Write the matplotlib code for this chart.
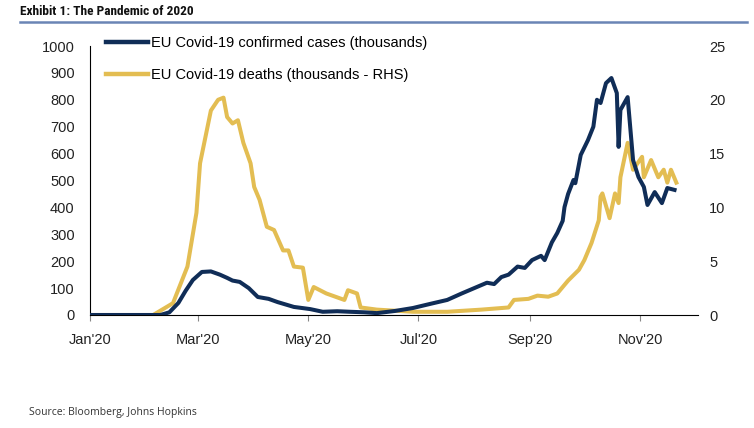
import pandas as pd
import matplotlib.dates as mdates
from matplotlib import pyplot as plt
from matplotlib import font_manager
from matplotlib.lines import Line2D

plt.rcParams["font.family"] = ["Liberation Sans", "DejaVu Sans"]

# EU Covid-19 confirmed cases (thousands)
case_dates = ["2020-01-01", "2020-02-09", "2020-02-14", "2020-02-19", "2020-02-23", "2020-02-27",
              "2020-03-03", "2020-03-08", "2020-03-13", "2020-03-17", "2020-03-20", "2020-03-24",
              "2020-03-29", "2020-04-03", "2020-04-09", "2020-04-14", "2020-04-18", "2020-04-23",
              "2020-05-02", "2020-05-09", "2020-05-17", "2020-05-24", "2020-06-01", "2020-06-08",
              "2020-06-18", "2020-06-28", "2020-07-08", "2020-07-17", "2020-07-25", "2020-08-01",
              "2020-08-08", "2020-08-12", "2020-08-16", "2020-08-20", "2020-08-25", "2020-08-29",
              "2020-09-02", "2020-09-07", "2020-09-09", "2020-09-13", "2020-09-16", "2020-09-19",
              "2020-09-20", "2020-09-22", "2020-09-25", "2020-09-26", "2020-09-29", "2020-10-03",
              "2020-10-06", "2020-10-08", "2020-10-10", "2020-10-13", "2020-10-16", "2020-10-19",
              "2020-10-20", "2020-10-21", "2020-10-25", "2020-10-28", "2020-10-31", "2020-11-03",
              "2020-11-05", "2020-11-09", "2020-11-13", "2020-11-16", "2020-11-20"]
cases = [0, 0, 10, 45, 90, 130,
         160, 162, 150, 138, 128, 123,
         100, 67, 60, 48, 40, 30,
         22, 12, 14, 12, 10, 7,
         15, 26, 42, 56, 80, 100,
         120, 115, 141, 150, 180, 175,
         204, 220, 204, 270, 305, 350,
         401, 450, 502, 490, 595, 650,
         700, 800, 788, 862, 881, 825,
         625, 762, 810, 576, 513, 476,
         409, 457, 416, 472, 465]

# EU Covid-19 deaths (thousands, right axis)
death_dates = ["2020-01-01", "2020-02-05", "2020-02-16", "2020-02-24", "2020-02-29", "2020-03-02",
               "2020-03-08", "2020-03-12", "2020-03-15", "2020-03-17", "2020-03-20", "2020-03-23",
               "2020-03-26", "2020-03-30", "2020-04-01", "2020-04-04", "2020-04-08", "2020-04-12",
               "2020-04-17", "2020-04-20", "2020-04-23", "2020-04-28", "2020-05-01", "2020-05-04",
               "2020-05-11", "2020-05-21", "2020-05-23", "2020-05-28", "2020-05-30", "2020-06-08",
               "2020-06-28", "2020-07-17", "2020-08-05", "2020-08-20", "2020-08-23", "2020-08-31",
               "2020-09-05", "2020-09-11", "2020-09-16", "2020-09-22", "2020-09-28", "2020-10-01",
               "2020-10-05", "2020-10-09", "2020-10-10", "2020-10-11", "2020-10-15", "2020-10-18",
               "2020-10-20", "2020-10-21", "2020-10-25", "2020-10-28", "2020-11-02", "2020-11-03",
               "2020-11-07", "2020-11-11", "2020-11-14", "2020-11-16", "2020-11-18", "2020-11-21"]
deaths = [0, 0, 1.1, 4.5, 9.5, 14.1,
          19.0, 20.0, 20.2, 18.4, 17.8, 18.1,
          16.0, 14.1, 11.9, 10.7, 8.2, 7.9,
          6.0, 6.0, 4.5, 4.4, 1.4, 2.6,
          2.0, 1.4, 2.3, 2.0, 0.7, 0.5,
          0.3, 0.3, 0.5, 0.7, 1.4, 1.5,
          1.8, 1.7, 2.0, 3.2, 4.2, 5.1,
          6.7, 8.8, 11.0, 11.3, 9.0, 11.3,
          10.4, 12.8, 16.0, 13.5, 14.7, 12.8,
          14.4, 12.8, 13.5, 12.3, 13.5, 12.3]

navy = "#102d57"
gold = "#e3bd52"

# narrow bold font for the title if one is around
installed = {f.name for f in font_manager.fontManager.ttflist}
title_font, title_size = "Liberation Sans", 8.5
for name in ["Roboto Condensed", "Liberation Sans Narrow", "DejaVu Sans Condensed", "Open Sans Condensed"]:
    if name in installed:
        title_font, title_size = name, 9.6
        break

fig = plt.figure(figsize=(7.54, 4.28), dpi=100)
ax = fig.add_axes([90 / 754, 1 - 315 / 428, 608 / 754, 269 / 428])
ax2 = ax.twinx()

ax.plot(pd.to_datetime(case_dates), cases, color=navy, lw=2.9, zorder=3)
ax2.plot(pd.to_datetime(death_dates), deaths, color=gold, lw=2.9)
ax.set_zorder(ax2.get_zorder() + 1)
ax.patch.set_visible(False)

ax.set_xlim(pd.Timestamp("2020-01-01"), pd.Timestamp("2020-12-03"))
ax.set_ylim(0, 1000)
ax2.set_ylim(0, 25)
ax.set_yticks(range(0, 1001, 100))
ax2.set_yticks(range(0, 26, 5))

ax.xaxis.set_major_locator(mdates.MonthLocator(bymonth=[1, 3, 5, 7, 9, 11]))
ax.xaxis.set_major_formatter(mdates.DateFormatter("%b'%y"))

for a in (ax, ax2):
    a.spines["top"].set_visible(False)
    a.spines["right"].set_visible(False)
ax2.spines["left"].set_visible(False)
ax2.spines["bottom"].set_visible(False)
ax.tick_params(axis="y", length=0, labelsize=10.5, pad=11, colors="#222222")
ax2.tick_params(axis="y", length=0, labelsize=10.5, pad=8, colors="#222222")
ax.tick_params(axis="x", length=4, color="#888888", labelsize=10.5, pad=9, labelcolor="#222222")

handles = [Line2D([], [], color=navy, lw=3.2), Line2D([], [], color=gold, lw=3.2)]
ax.legend(handles, ["EU Covid-19 confirmed cases (thousands)", "EU Covid-19 deaths (thousands - RHS)"],
          loc="upper left", bbox_to_anchor=(0.005, 1.085), frameon=False, fontsize=10.5,
          handlelength=2.9, handletextpad=0.2, labelspacing=1.25)

fig.text(20 / 754, 1 - 11.5 / 428, "Exhibit 1: The Pandemic of 2020", fontsize=title_size, fontweight="bold",
         family=title_font, fontstretch="condensed", va="center", color="#111111")
fig.add_artist(Line2D([20 / 754, 747 / 754], [1 - 21.5 / 428] * 2, color="#6a85b5", lw=1.8))
fig.text(29 / 754, 1 - 412 / 428, "Source: Bloomberg, Johns Hopkins", fontsize=7.5,
         family=["Open Sans", "DejaVu Sans"], va="center", color="#333333")

fig.savefig("out.png", dpi=100)
